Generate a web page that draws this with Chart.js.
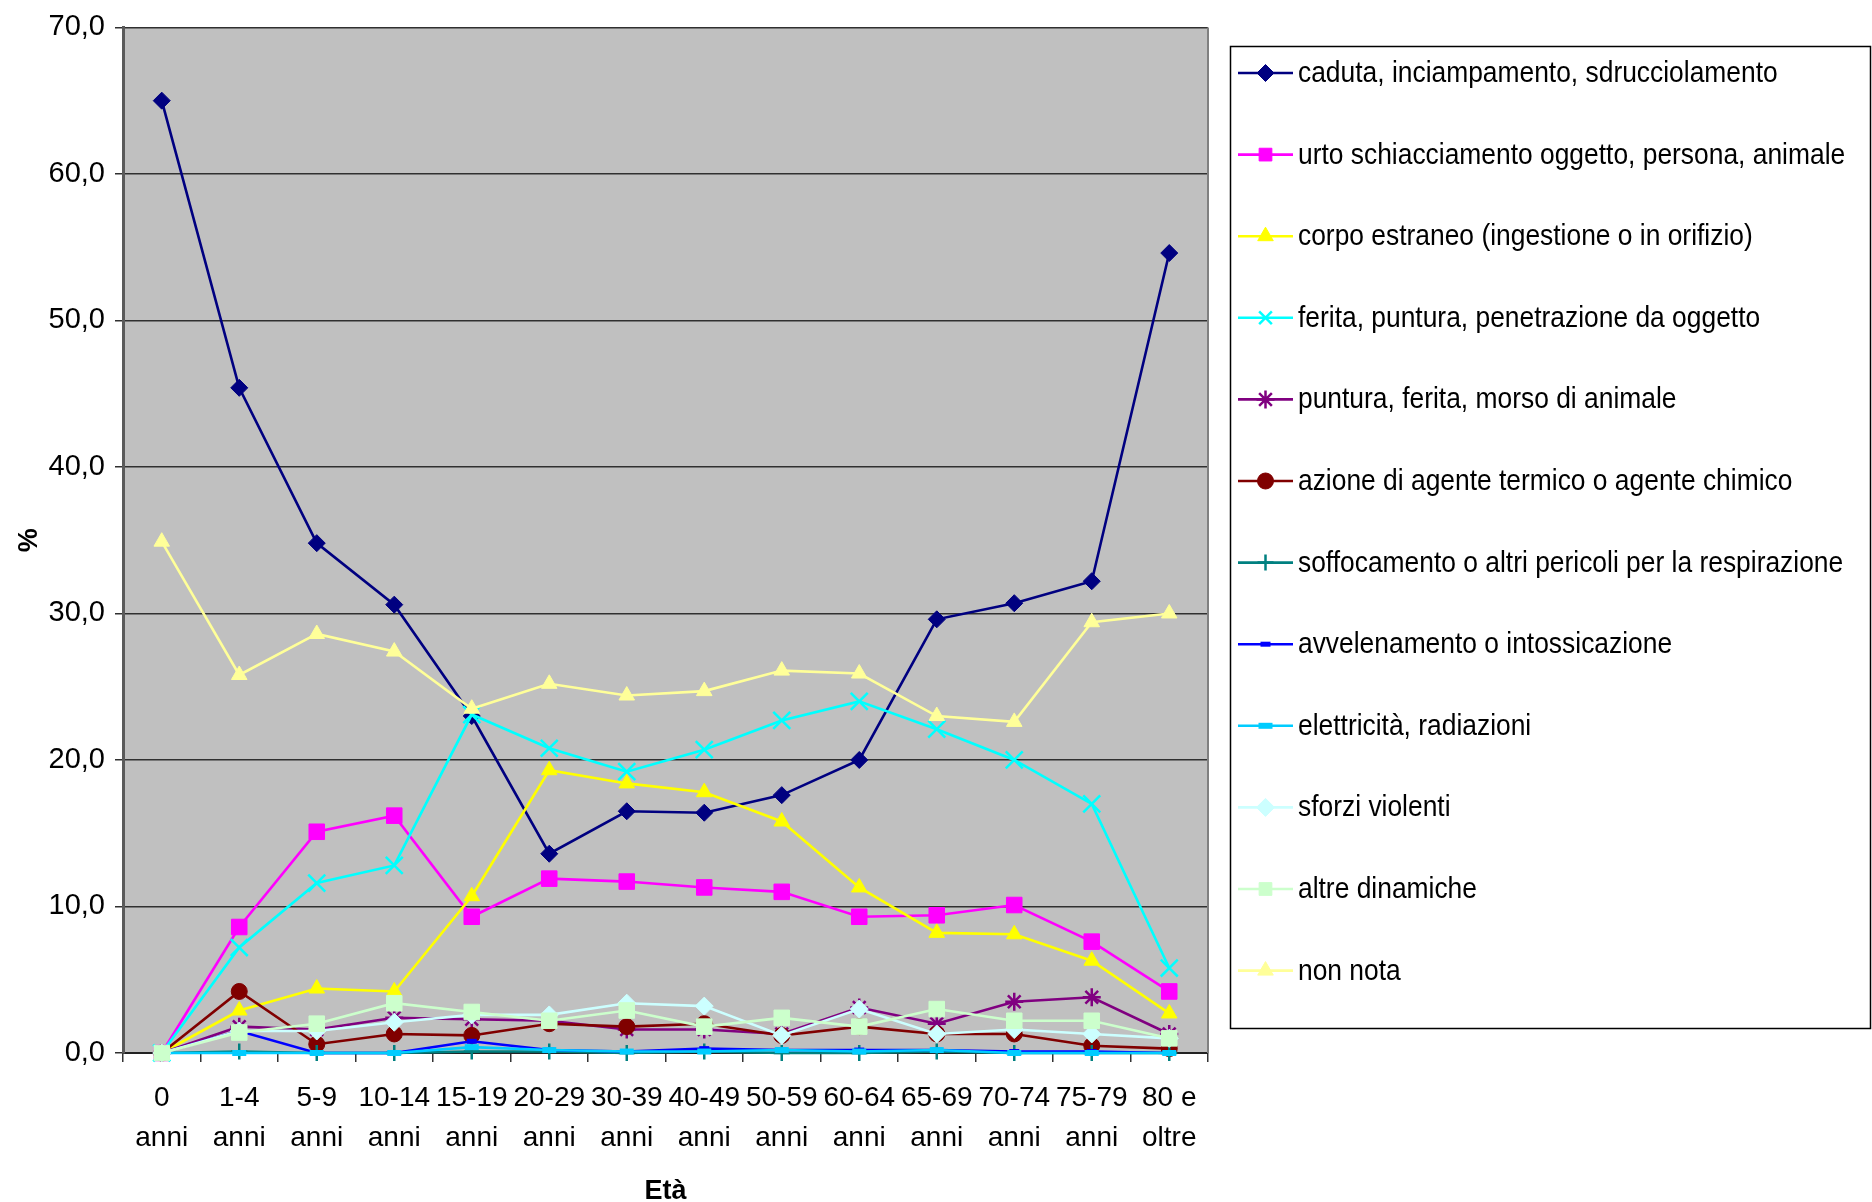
<!DOCTYPE html>
<html>
<head>
<meta charset="utf-8">
<script src="https://cdn.jsdelivr.net/npm/chart.js@4.4.1/dist/chart.umd.min.js"></script>
<style>
  html, body { margin: 0; padding: 0; background: #ffffff; }
  #wrap { width: 1872px; height: 1202px; }
</style>
</head>
<body>
<div id="wrap"><canvas id="c" width="1872" height="1202"></canvas></div>
<script>
// Age groups (two-line tick labels)
const ageGroups = [
  ['0', 'anni'], ['1-4', 'anni'], ['5-9', 'anni'], ['10-14', 'anni'], ['15-19', 'anni'],
  ['20-29', 'anni'], ['30-39', 'anni'], ['40-49', 'anni'], ['50-59', 'anni'], ['60-64', 'anni'],
  ['65-69', 'anni'], ['70-74', 'anni'], ['75-79', 'anni'], ['80 e', 'oltre']
];

const seriesNames = [
  'caduta, inciampamento, sdrucciolamento',
  'urto schiacciamento oggetto, persona, animale',
  'corpo estraneo (ingestione o in orifizio)',
  'ferita, puntura, penetrazione da oggetto',
  'puntura, ferita, morso di animale',
  'azione di agente termico o agente chimico',
  'soffocamento o altri pericoli per la respirazione',
  'avvelenamento o intossicazione',
  'elettricità, radiazioni',
  'sforzi violenti',
  'altre dinamiche',
  'non nota'
];

// Percentages by age group
const caduta        = [65.0, 45.4, 34.8, 30.6, 23.0, 13.6, 16.5, 16.4, 17.6, 20.0, 29.6, 30.7, 32.2, 54.6];
const urto          = [0.0, 8.6, 15.1, 16.2, 9.3, 11.9, 11.7, 11.3, 11.0, 9.3, 9.4, 10.1, 7.6, 4.2];
const corpoEstraneo = [0.0, 2.9, 4.4, 4.2, 10.7, 19.3, 18.4, 17.8, 15.8, 11.3, 8.2, 8.1, 6.3, 2.7];
const feritaOggetto = [0.0, 7.2, 11.6, 12.8, 23.1, 20.8, 19.2, 20.7, 22.7, 24.0, 22.1, 20.0, 17.0, 5.8];
const morsoAnimale  = [0.0, 1.8, 1.6, 2.4, 2.3, 2.2, 1.6, 1.6, 1.3, 3.1, 2.0, 3.5, 3.8, 1.3];
const agenteTermico = [0.0, 4.2, 0.6, 1.3, 1.2, 2.0, 1.8, 2.0, 1.2, 1.8, 1.3, 1.3, 0.5, 0.3];
const soffocamento  = [0.0, 0.1, 0.0, 0.0, 0.1, 0.1, 0.0, 0.1, 0.0, 0.0, 0.1, 0.0, 0.0, 0.0];
const avvelenamento = [0.0, 1.5, 0.0, 0.0, 0.8, 0.2, 0.1, 0.3, 0.2, 0.2, 0.2, 0.1, 0.1, 0.0];
const elettricita   = [0.0, 0.0, 0.0, 0.0, 0.4, 0.2, 0.1, 0.1, 0.2, 0.1, 0.2, 0.0, 0.0, 0.0];
const sforzi        = [0.0, 1.5, 1.5, 2.1, 2.6, 2.6, 3.4, 3.2, 1.2, 3.0, 1.3, 1.6, 1.3, 1.0];
const altre         = [0.0, 1.4, 2.0, 3.4, 2.8, 2.2, 2.9, 1.8, 2.4, 1.8, 3.0, 2.2, 2.2, 1.0];
const nonNota       = [34.9, 25.8, 28.6, 27.4, 23.5, 25.2, 24.4, 24.7, 26.1, 25.9, 23.0, 22.6, 29.4, 30.0];

const seriesValues = [caduta, urto, corpoEstraneo, feritaOggetto, morsoAnimale, agenteTermico,
  soffocamento, avvelenamento, elettricita, sforzi, altre, nonNota];

const FONT = '"Liberation Sans", Arial, Helvetica, sans-serif';

// Line colour and marker for each series
const looks = [
  { color: '#000080', point: 'rectRot',  r: 8.5, pbw: 1 },
  { color: '#FF00FF', point: 'rect',     r: 11,  pbw: 1 },
  { color: '#FFFF00', point: 'triangle', r: 9,   pbw: 1 },
  { color: '#00FFFF', point: 'crossRot', r: 12,  pbw: 2.5 },
  { color: '#800080', point: 'star',     r: 9,   pbw: 2.5 },
  { color: '#800000', point: 'circle',   r: 8,   pbw: 1 },
  { color: '#008080', point: 'cross',    r: 8,   pbw: 2.5 },
  { color: '#0000FF', point: 'line',     r: 5,   pbw: 5 },
  { color: '#00CCFF', point: 'line',     r: 7,   pbw: 6 },
  { color: '#CCFFFF', point: 'rectRot',  r: 9,   pbw: 1 },
  { color: '#CCFFCC', point: 'rect',     r: 11,  pbw: 1 },
  { color: '#FFFF99', point: 'triangle', r: 9,   pbw: 1 }
];

const datasets = seriesValues.map((vals, i) => ({
  label: seriesNames[i],
  data: vals,
  borderColor: looks[i].color,
  backgroundColor: looks[i].color,
  borderWidth: 2.6,
  pointStyle: looks[i].point,
  pointRadius: looks[i].r,
  pointHoverRadius: looks[i].r,
  pointBackgroundColor: looks[i].color,
  pointBorderColor: looks[i].color,
  pointBorderWidth: looks[i].pbw,
  tension: 0,
  fill: false,
  clip: false,
  // later series are painted above earlier ones
  order: seriesValues.length - i
}));

// Grey plotting area and its right-hand frame
const plotFrame = {
  id: 'plotFrame',
  beforeDraw(chart) {
    const a = chart.chartArea, ctx = chart.ctx;
    ctx.save();
    ctx.fillStyle = '#C0C0C0';
    ctx.fillRect(a.left, a.top, a.right - a.left, a.bottom - a.top);
    ctx.restore();
  },
  beforeDatasetsDraw(chart) {
    const a = chart.chartArea, ctx = chart.ctx;
    ctx.save();
    ctx.strokeStyle = '#808080';
    ctx.lineWidth = 2;
    ctx.beginPath();
    ctx.moveTo(a.right, a.top);
    ctx.lineTo(a.right, a.bottom);
    ctx.stroke();
    ctx.restore();
  }
};

// Boxed legend on the right
const boxLegend = {
  id: 'boxLegend',
  afterDraw(chart) {
    const ctx = chart.ctx;
    const L = 1230.5, T = 46.5, R = 1870.5, B = 1028.5;
    ctx.save();
    ctx.fillStyle = '#ffffff';
    ctx.fillRect(L, T, R - L, B - T);
    ctx.strokeStyle = '#000000';
    ctx.lineWidth = 1.5;
    ctx.strokeRect(L, T, R - L, B - T);
    chart.data.datasets.forEach((ds, i) => {
      const y = 73 + i * 81.6;
      ctx.strokeStyle = ds.borderColor;
      ctx.lineWidth = ds.borderWidth;
      ctx.beginPath();
      ctx.moveTo(1238, y);
      ctx.lineTo(1293, y);
      ctx.stroke();
      ctx.fillStyle = ds.pointBackgroundColor;
      ctx.strokeStyle = ds.pointBorderColor;
      ctx.lineWidth = ds.pointBorderWidth;
      Chart.helpers.drawPoint(ctx, {
        pointStyle: ds.pointStyle,
        radius: Math.min(ds.pointRadius, 9),
        borderWidth: ds.pointBorderWidth,
        rotation: 0
      }, 1265.5, y);
      ctx.fillStyle = '#000000';
      ctx.font = '29px ' + FONT;
      ctx.textBaseline = 'middle';
      ctx.textAlign = 'left';
      ctx.save();
      ctx.translate(1298, y + 1);
      ctx.scale(0.91, 1);
      ctx.fillText(ds.label, 0, 0);
      ctx.restore();
    });
    ctx.restore();
  }
};

new Chart(document.getElementById('c'), {
  type: 'line',
  data: { labels: ageGroups, datasets },
  options: {
    responsive: false,
    animation: false,
    events: [],
    layout: { padding: { left: 0, top: 23, right: 664, bottom: 0 } },
    plugins: {
      legend: { display: false },
      tooltip: { enabled: false }
    },
    scales: {
      x: {
        type: 'category',
        offset: true,
        grid: {
          display: true,
          drawOnChartArea: false,
          drawTicks: true,
          tickLength: 9,
          offset: true,
          color: '#333333',
          lineWidth: 1.5
        },
        border: { display: true, color: '#222222', width: 2 },
        ticks: {
          color: '#000000',
          font: { family: FONT, size: 28, lineHeight: 1.4 },
          padding: 17,
          maxRotation: 0,
          autoSkip: false
        },
        title: {
          display: true,
          text: 'Età',
          color: '#000000',
          font: { family: FONT, size: 27, weight: 'bold', lineHeight: 0.8 },
          padding: 0
        },
        afterFit(scale) { scale.height = 149; }
      },
      y: {
        min: 0,
        max: 70,
        ticks: {
          stepSize: 10,
          color: '#000000',
          font: { family: FONT, size: 29 },
          padding: 10,
          callback: v => v.toFixed(1).replace('.', ',')
        },
        grid: { color: '#303030', lineWidth: 1.5, tickLength: 8 },
        border: { display: true, color: '#5a5a5a', width: 3 },
        title: {
          display: true,
          text: '%',
          color: '#000000',
          font: { family: FONT, size: 27, weight: 'bold' },
          padding: { top: 13, bottom: 0 }
        },
        afterFit(scale) { scale.width = 123; }
      }
    }
  },
  plugins: [plotFrame, boxLegend]
});
</script>
</body>
</html>
